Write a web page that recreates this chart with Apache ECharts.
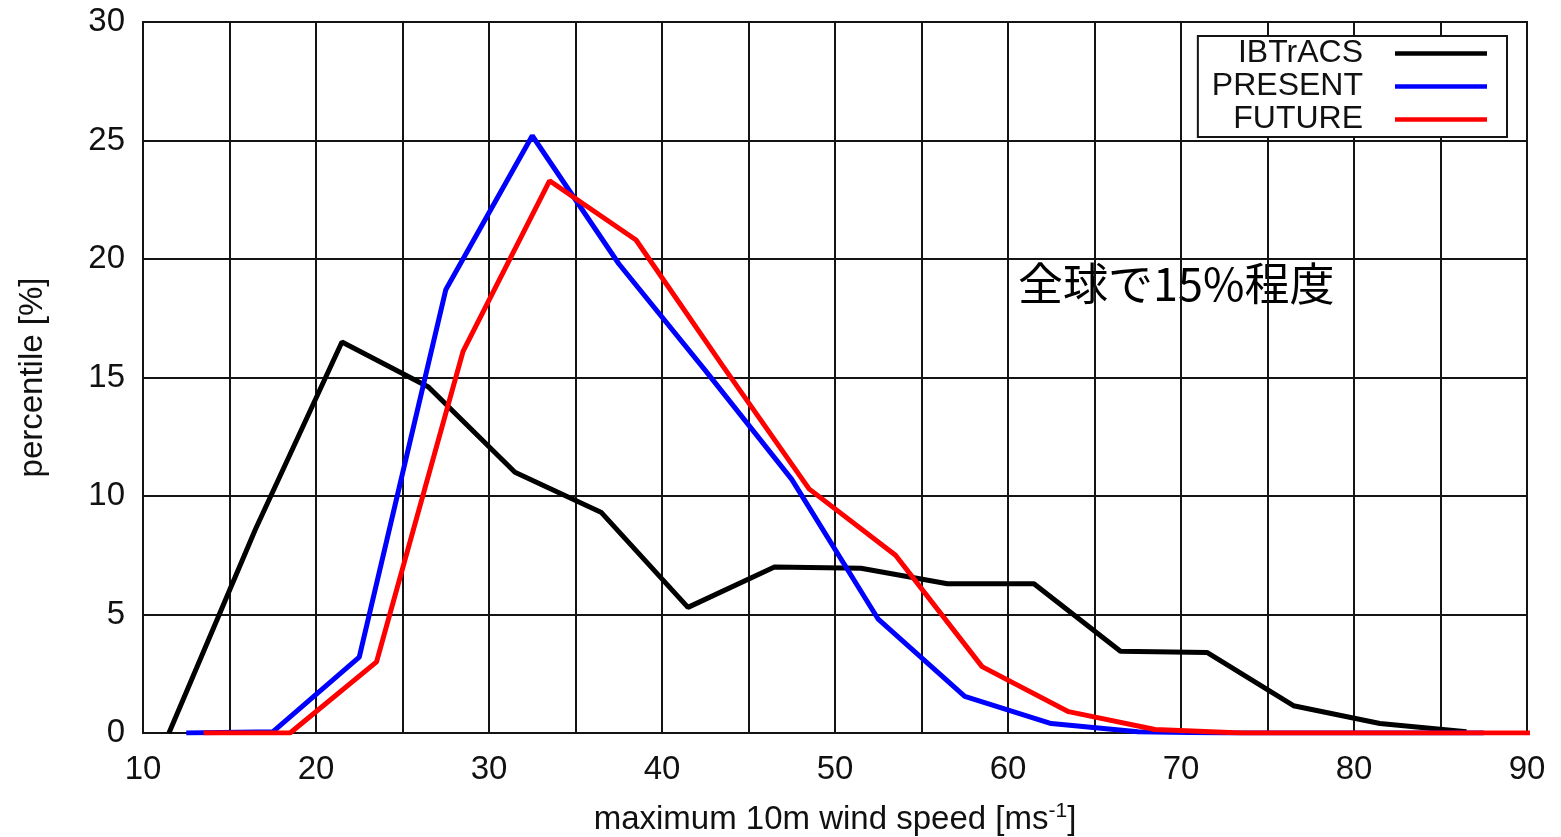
<!DOCTYPE html>
<html>
<head>
<meta charset="utf-8">
<script src="https://cdn.jsdelivr.net/npm/echarts@6/dist/echarts.min.js"></script>
<style>
html,body{margin:0;padding:0;background:#fff;}
#chart{width:1561px;height:837px;}
</style>
</head>
<body>
<div id="chart"></div>
<script>
// ---- data ----
const ibtracsX = [11.5, 16.5, 21.5, 26.5, 31.5, 36.5, 41.5, 46.5, 51.5, 56.5, 61.5, 66.5, 71.5, 76.5, 81.5, 86.5];
const ibtracsY = [0, 8.6, 16.5, 14.6, 11.0, 9.3, 5.3, 7.0, 6.95, 6.3, 6.3, 3.45, 3.4, 1.15, 0.4, 0.05];
const presentX = [12.5, 17.5, 22.5, 27.5, 32.5, 37.5, 42.5, 47.5, 52.5, 57.5, 62.5, 67.5, 72.5, 77.5, 82.5, 87.5];
const presentY = [0, 0.05, 3.2, 18.7, 25.2, 19.8, 15.3, 10.7, 4.8, 1.55, 0.4, 0.05, 0, 0, 0, 0];
const futureX = [13.5, 18.5, 23.5, 28.5, 33.5, 38.5, 43.5, 48.5, 53.5, 58.5, 63.5, 68.5, 73.5, 78.5, 83.5, 88.5, 93.5];
const futureY = [0, 0, 3.0, 16.1, 23.3, 20.8, 15.5, 10.3, 7.5, 2.8, 0.9, 0.15, 0, 0, 0, 0, 0];
const seriesNames = ['IBTrACS', 'PRESENT', 'FUTURE'];
const seriesColors = ['#000000', '#0000ff', '#ff0000'];
const xTickLabels = ['10', '20', '30', '40', '50', '60', '70', '80', '90'];
const yTickLabels = ['0', '5', '10', '15', '20', '25', '30'];
const annotation = '全球で15%程度';

const pairs = (xs, ys) => xs.map((x, i) => [x, ys[i]]);
const allData = [pairs(ibtracsX, ibtracsY), pairs(presentX, presentY), pairs(futureX, futureY)];

const FONT = 'Liberation Sans';
const gridColor = '#141414';

const chart = echarts.init(document.getElementById('chart'), null, {renderer: 'canvas'});
chart.setOption({
  backgroundColor: '#ffffff',
  animation: false,
  grid: {left: 143, right: 34, top: 22, bottom: 104, outerBoundsMode: 'none', containLabel: false,
         show: true, borderColor: gridColor, borderWidth: 2, backgroundColor: 'transparent'},
  xAxis: {
    type: 'value', min: 10, max: 90, interval: 5,
    axisLine: {show: true, lineStyle: {color: gridColor, width: 2}},
    axisTick: {show: false},
    splitLine: {show: true, lineStyle: {color: gridColor, width: 2}},
    axisLabel: {
      color: '#111', fontFamily: FONT, fontSize: 33, margin: 20,
      formatter: v => xTickLabels.includes(String(v)) ? String(v) : ''
    },
    name: 'maximum 10m wind speed [ms{sup|-1}]',
    nameLocation: 'middle', nameGap: 68,
    nameTextStyle: {
      color: '#111', fontFamily: FONT, fontSize: 33,
      rich: {sup: {fontFamily: FONT, fontSize: 21, color: '#111', verticalAlign: 'top', padding: [0, 0, 16, 0]}}
    }
  },
  yAxis: {
    type: 'value', min: 0, max: 30, interval: 5,
    axisLine: {show: true, lineStyle: {color: gridColor, width: 2}},
    axisTick: {show: false},
    splitLine: {show: true, lineStyle: {color: gridColor, width: 2}},
    axisLabel: {
      color: '#111', fontFamily: FONT, fontSize: 33, margin: 18,
      formatter: v => yTickLabels.includes(String(v)) ? String(v) : ''
    },
    name: 'percentile [%]', nameLocation: 'middle', nameGap: 94, nameRotate: 90,
    nameTextStyle: {color: '#111', fontFamily: FONT, fontSize: 33}
  },
  legend: {
    orient: 'vertical', right: 54, top: 36, align: 'right',
    data: seriesNames.map(n => ({name: n, icon: 'rect'})),
    itemWidth: 92, itemHeight: 4.5, itemGap: 0,
    backgroundColor: '#ffffff', borderColor: gridColor, borderWidth: 2,
    padding: [1, 20, 1, 14],
    textStyle: {color: '#111', fontFamily: FONT, fontSize: 32, lineHeight: 33, padding: [0, 27, 0, 0]}
  },
  graphic: [{
    type: 'text', left: 1018, top: 261,
    style: {text: annotation, fontFamily: 'Noto Sans CJK JP', fontSize: 45, fill: '#000'}
  }],
  series: seriesNames.map((n, i) => ({
    name: n, type: 'line', data: allData[i],
    showSymbol: false, symbol: 'none', clip: true,
    lineStyle: {color: seriesColors[i], width: 5},
    itemStyle: {color: seriesColors[i]},
    z: 3 + i
  }))
});
</script>
</body>
</html>
